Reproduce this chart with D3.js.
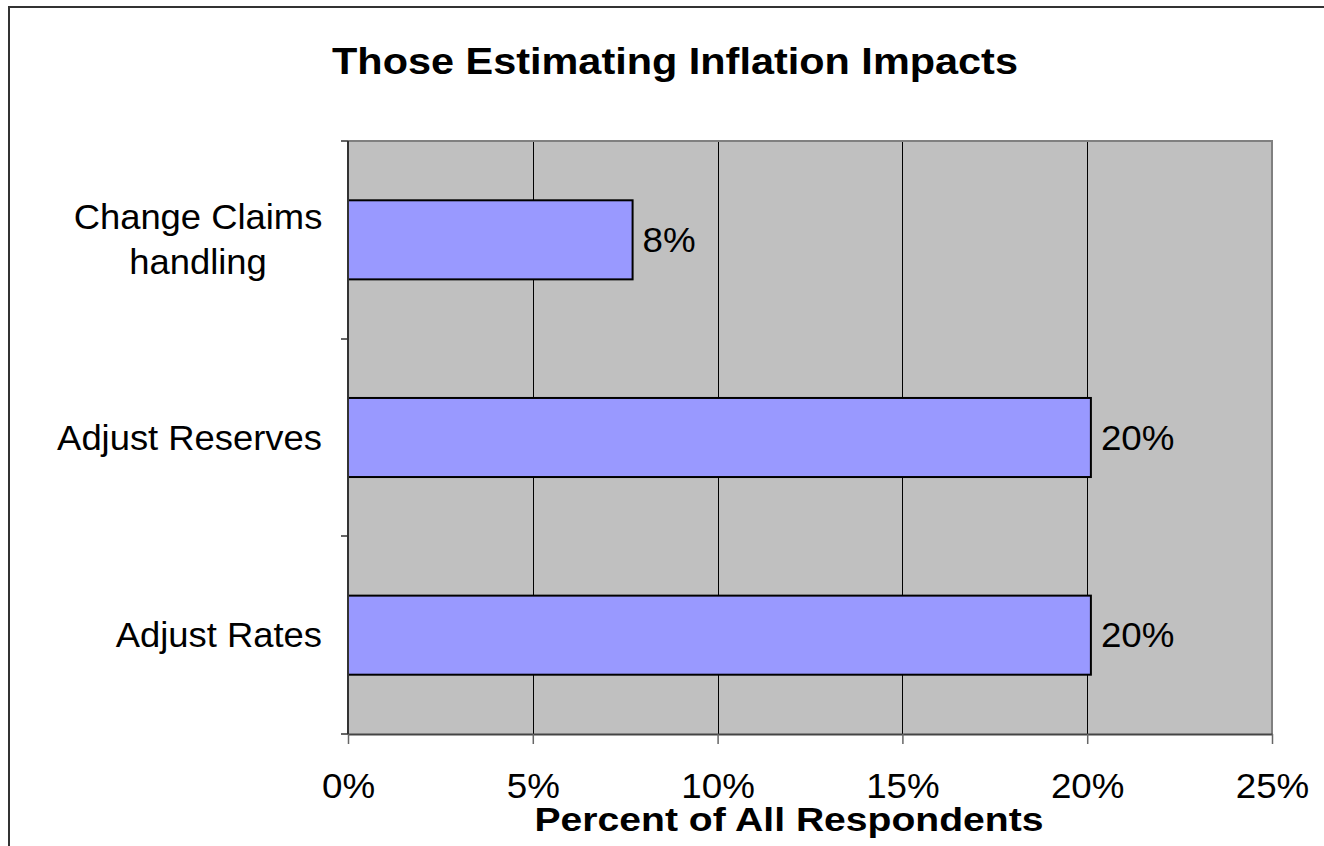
<!DOCTYPE html>
<html>
<head>
<meta charset="utf-8">
<script src="https://cdn.jsdelivr.net/npm/d3@7"></script>
<style>
  html, body { margin: 0; padding: 0; background: #fff; }
  svg { display: block; }
  text { font-family: "Liberation Sans", Arial, sans-serif; fill: #000; }
</style>
</head>
<body>
<svg id="chart" width="1324" height="846"></svg>
<script>
// Survey responses: share of all respondents taking each action
const categories = ["Change Claims\nhandling", "Adjust Reserves", "Adjust Rates"];
const values = [0.077, 0.201, 0.201];
const xTicks = [0, 0.05, 0.10, 0.15, 0.20, 0.25];
const chartTitle = "Those Estimating Inflation Impacts";
const xAxisTitle = "Percent of All Respondents";

const svg = d3.select("#chart");
const plot = { left: 348, right: 1272, top: 141, bottom: 734 };

const x = d3.scaleLinear().domain([0, 0.25]).range([plot.left, plot.right]);
const y = d3.scaleBand().domain(categories).range([plot.top, plot.bottom])
  .paddingInner(0.6).paddingOuter(0.3);
const pct = d3.format(".0%");

// Text in this chart is set slightly wide
const wide = (px, py, sx) => `translate(${px},${py}) scale(${sx},1)`;

// Outer chart frame
svg.append("path")
  .attr("d", `M9,846 V7 H1324`)
  .attr("fill", "none").attr("stroke", "#333").attr("stroke-width", 2);

// Plot background
svg.append("rect")
  .attr("x", plot.left).attr("y", plot.top)
  .attr("width", plot.right - plot.left).attr("height", plot.bottom - plot.top)
  .attr("fill", "#c0c0c0");

// Vertical gridlines
svg.append("g").selectAll("line")
  .data(xTicks.slice(1, -1))
  .join("line")
  .attr("x1", d => Math.round(x(d)) + 0.5).attr("x2", d => Math.round(x(d)) + 0.5)
  .attr("y1", plot.top).attr("y2", plot.bottom)
  .attr("stroke", "#000").attr("stroke-width", 1);

// Plot border (top and right)
svg.append("path")
  .attr("d", `M${plot.left},${plot.top} H${plot.right} V${plot.bottom}`)
  .attr("fill", "none").attr("stroke", "#808080").attr("stroke-width", 2);

// Bars
svg.append("g").selectAll("rect")
  .data(categories)
  .join("rect")
  .attr("x", x(0))
  .attr("y", d => y(d))
  .attr("width", (d, i) => x(values[i]) - x(0))
  .attr("height", y.bandwidth())
  .attr("fill", "#9999ff")
  .attr("stroke", "#000").attr("stroke-width", 2);

// Value labels
svg.append("g").selectAll("text")
  .data(categories)
  .join("text")
  .attr("transform", (d, i) => wide(x(values[i]) + 10, y(d) + y.bandwidth() / 2 + 12, 1.05))
  .attr("font-size", 35)
  .text((d, i) => pct(values[i]));

// X axis
const xAxis = d3.axisBottom(x).tickValues(xTicks).tickFormat(pct).tickSize(10).tickSizeOuter(0);
const gx = svg.append("g").attr("transform", `translate(0,${plot.bottom})`).call(xAxis);
gx.select(".domain").attr("stroke", "#444").attr("stroke-width", 2);
gx.selectAll(".tick line").attr("stroke", "#666").attr("stroke-width", 1.5);
gx.selectAll(".tick text")
  .attr("y", null).attr("dy", null)
  .attr("transform", wide(0, 64, 1.05))
  .attr("font-size", 35).attr("font-family", "Liberation Sans, Arial, sans-serif")
  .attr("fill", "#000");

// Y axis: ticks on category boundaries
const boundaries = [plot.top, ...categories.slice(1).map(c => y(c) - y.step() * y.paddingInner() / 2), plot.bottom];
svg.append("line")
  .attr("x1", plot.left).attr("x2", plot.left)
  .attr("y1", plot.top).attr("y2", plot.bottom)
  .attr("stroke", "#333").attr("stroke-width", 2);
svg.append("g").selectAll("line")
  .data(boundaries)
  .join("line")
  .attr("x1", plot.left - 7).attr("x2", plot.left)
  .attr("y1", d => Math.round(d)).attr("y2", d => Math.round(d))
  .attr("stroke", "#333").attr("stroke-width", 1.5);

// Category labels
svg.append("g").selectAll("text")
  .data(categories)
  .join("text")
  .each(function (d) {
    const lines = d.split("\n");
    const cy = y(d) + y.bandwidth() / 2;
    const t = d3.select(this).attr("font-size", 35);
    if (lines.length === 1) {
      t.attr("text-anchor", "end").attr("transform", wide(322, cy + 12, 1.04)).text(d);
    } else {
      t.attr("text-anchor", "middle").attr("transform", wide(198, cy + 12, 1.04));
      lines.forEach((ln, k) => {
        t.append("tspan").attr("x", 0)
          .attr("y", (k - (lines.length - 1) / 2) * 45)
          .text(ln);
      });
    }
  });

// Chart title
svg.append("text")
  .attr("transform", wide(675, 74, 1.12))
  .attr("text-anchor", "middle")
  .attr("font-size", 37).attr("font-weight", "bold")
  .text(chartTitle);

// Axis title
svg.append("text")
  .attr("transform", wide(789, 831, 1.15))
  .attr("text-anchor", "middle")
  .attr("font-size", 34).attr("font-weight", "bold")
  .text(xAxisTitle);
</script>
</body>
</html>
